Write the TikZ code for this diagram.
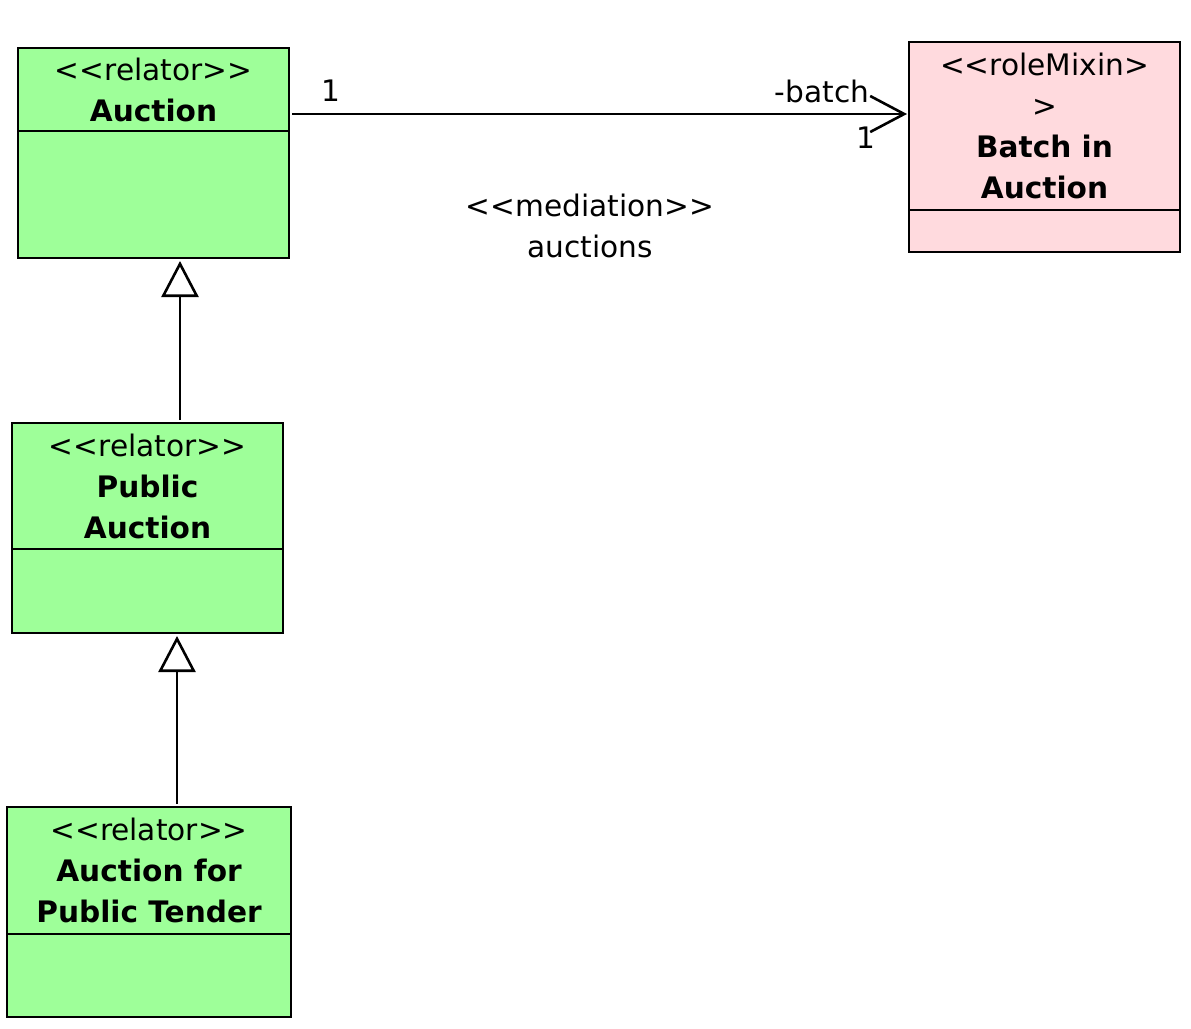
\documentclass[tikz,border=0pt]{standalone}
\usepackage{fontspec}
\setmainfont{DejaVu Sans}
\usepackage{tikz}
\usetikzlibrary{calc}
\usetikzlibrary{arrows.meta}
\usetikzlibrary{positioning}
\definecolor{relatorgreen}{RGB}{158, 255, 153}
\definecolor{mixinpink}{RGB}{255, 218, 222}
\newcommand{\lt}{{<}}
\newcommand{\gt}{{>}}

\begin{document}
\begin{tikzpicture}[x=0.5pt, y=-0.5pt,
    classhead/.style={draw, line width=1.35pt, inner sep=0pt, outer sep=0pt, align=center,
                      font=\fontsize{14.8pt}{20.5pt}\selectfont},
    classbody/.style={draw, line width=1.35pt, inner sep=0pt, outer sep=0pt},
    assoc/.style={line width=1.3pt, -{Straight Barb[length=17pt, width=18pt, line width=1.3pt]}},
    gen/.style={line width=1.3pt, -{Triangle[open, fill=white, length=18pt, width=18.5pt, line width=1.3pt]}},
    lbl/.style={font=\fontsize{14.8pt}{20.5pt}\selectfont, inner sep=0pt}]
    % Frame to fix the page size:
    \useasboundingbox                                                (0.00, 0.00) rectangle (1191.00, 1029.00);
    % Auction
    \node[classhead, fill=relatorgreen, minimum width=135.5pt, minimum height=41.5pt, anchor=north west]
        (auctionHead) at (18.00, 48.00) {\lt\lt relator\gt\gt\\\textbf{Auction}};
    \node[classbody, fill=relatorgreen, minimum width=135.5pt, minimum height=63.5pt, below=0pt of auctionHead]
        (auctionBody) {};
    % Public Auction
    \node[classhead, fill=relatorgreen, minimum width=135.5pt, minimum height=63.0pt, anchor=north west]
        (publicHead) at (12.00, 423.00) {\lt\lt relator\gt\gt\\\textbf{Public}\\\textbf{Auction}};
    \node[classbody, fill=relatorgreen, minimum width=135.5pt, minimum height=42.0pt, below=0pt of publicHead]
        (publicBody) {};
    % Auction for Public Tender
    \node[classhead, fill=relatorgreen, minimum width=142.0pt, minimum height=63.5pt, anchor=north west]
        (tenderHead) at (7.00, 807.00) {\lt\lt relator\gt\gt\\\textbf{Auction for}\\\textbf{Public Tender}};
    \node[classbody, fill=relatorgreen, minimum width=142.0pt, minimum height=41.5pt, below=0pt of tenderHead]
        (tenderBody) {};
    % Batch in Auction
    \node[classhead, fill=mixinpink, minimum width=135.5pt, minimum height=84.0pt, anchor=north west]
        (batchHead) at (909.00, 42.00) {\lt\lt roleMixin\gt\\\gt\\\textbf{Batch in}\\\textbf{Auction}};
    \node[classbody, fill=mixinpink, minimum width=135.5pt, minimum height=21.0pt, below=0pt of batchHead]
        (batchBody) {};
    % Mediation
    \coordinate (assocStart) at ([xshift=1.5pt, yshift=-12.25pt]auctionHead.east);
    \coordinate (assocEnd)   at ([xshift=-1pt]assocStart -| batchHead.west);
    \draw[assoc] (assocStart) -- (assocEnd);
    \node[lbl] (multSrc)   at (331.00,  91.00) {1};
    \node[lbl] (roleTgt)   at (822.00,  91.00) {-batch};
    \node[lbl] (multTgt)   at (866.00, 138.00) {1};
    \node[lbl, align=center]
        (assocName) at (590.00, 225.50) {\lt\lt mediation\gt\gt\\auctions};
    % Generalizations
    \coordinate (genTopFrom) at ([xshift=16.25pt, yshift=1.5pt]publicHead.north);
    \coordinate (genTopTo)   at (genTopFrom |- auctionBody.south);
    \draw[gen] (genTopFrom) -- ([yshift=-1.5pt]genTopTo);
    \coordinate (genLowFrom) at ([xshift=14pt, yshift=1.5pt]tenderHead.north);
    \coordinate (genLowTo)   at (genLowFrom |- publicBody.south);
    \draw[gen] (genLowFrom) -- ([yshift=-1.5pt]genLowTo);
\end{tikzpicture}
\end{document}
